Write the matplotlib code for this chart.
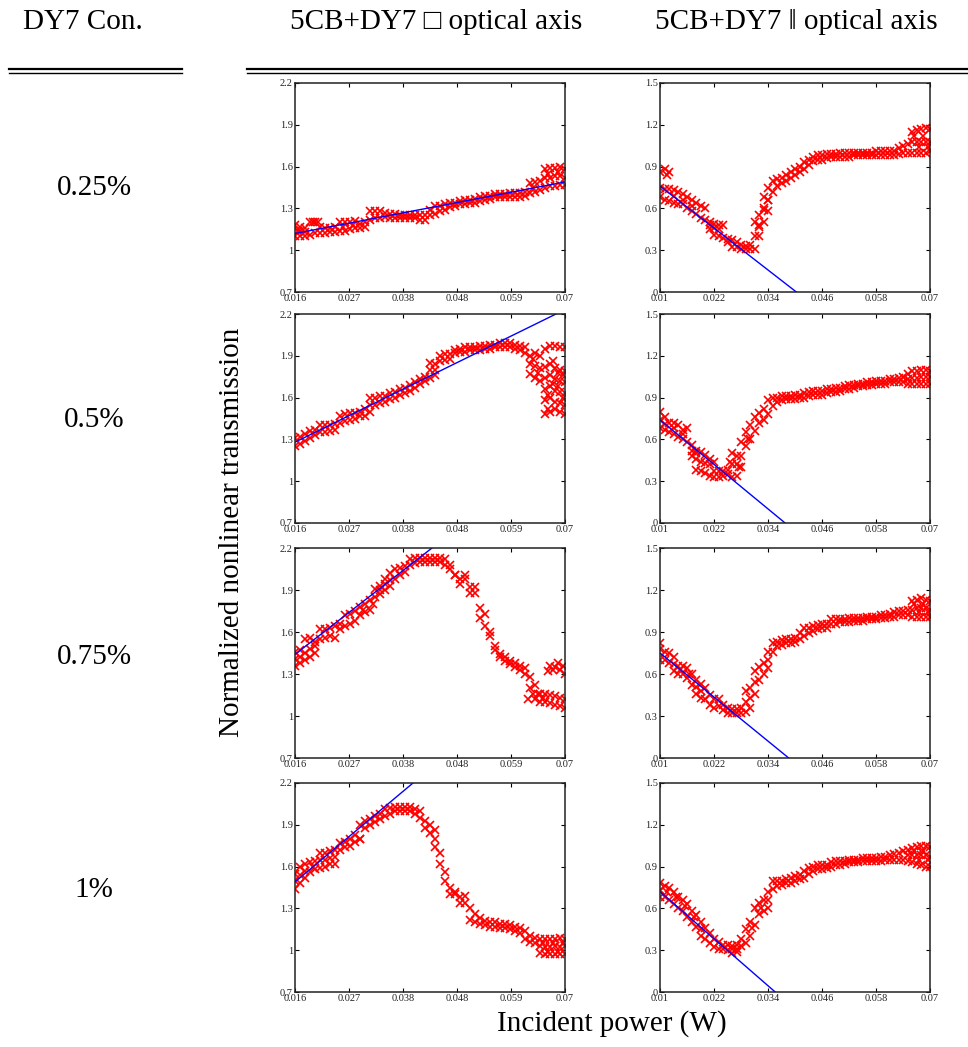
import numpy as np
import matplotlib
matplotlib.use("Agg")
import matplotlib.pyplot as plt
from matplotlib.lines import Line2D

plt.rcParams['font.family'] = ['Liberation Serif', 'DejaVu Serif']

# sample positions (mW) for the two x ranges
power_perp_mw = [16, 17, 18, 19, 20, 21, 22, 23, 24, 25, 26, 27, 28, 29, 30, 31, 32, 33, 34, 35,
                 36, 37, 38, 39, 40, 41, 42, 43, 44, 45, 46, 47, 48, 49, 50, 51, 52, 53, 54, 55,
                 56, 57, 58, 59, 60, 61, 62, 63, 64, 65, 66, 67, 68, 69, 70]
power_par_mw = [10, 11, 12, 13, 14, 15, 16, 17, 18, 19, 20, 21, 22, 23, 24, 25, 26, 27, 28, 29,
                30, 31, 32, 33, 34, 35, 36, 37, 38, 39, 40, 41, 42, 43, 44, 45, 46, 47, 48, 49,
                50, 51, 52, 53, 54, 55, 56, 57, 58, 59, 60, 61, 62, 63, 64, 65, 66, 67, 68, 69, 70]

# ---- 0.25 %
perp025_lo = [1.10, 1.10, 1.10, 1.11, 1.12, 1.12, 1.12, 1.13, 1.13, 1.14,
              1.14, 1.15, 1.16, 1.16, 1.17, 1.22, 1.23, 1.23, 1.24, 1.23,
              1.23, 1.23, 1.23, 1.23, 1.23, 1.22, 1.22, 1.25, 1.26, 1.28,
              1.29, 1.31, 1.32, 1.33, 1.33, 1.34, 1.34, 1.35, 1.36, 1.37,
              1.38, 1.38, 1.38, 1.38, 1.38, 1.38, 1.39, 1.41, 1.42, 1.43,
              1.45, 1.46, 1.46, 1.47, 1.47]
perp025_hi = [1.18, 1.17, 1.16, 1.20, 1.20, 1.17, 1.16, 1.16, 1.17, 1.20,
              1.20, 1.20, 1.21, 1.19, 1.20, 1.28, 1.28, 1.28, 1.27, 1.26,
              1.26, 1.25, 1.25, 1.25, 1.25, 1.25, 1.25, 1.29, 1.32, 1.32,
              1.33, 1.34, 1.34, 1.35, 1.36, 1.36, 1.37, 1.38, 1.39, 1.39,
              1.40, 1.40, 1.40, 1.41, 1.41, 1.41, 1.42, 1.48, 1.49, 1.50,
              1.58, 1.59, 1.59, 1.60, 1.58]
perp025_ex_x = [16.5, 19.5, 20.5, 63.5, 66, 67, 68, 69, 70, 66.5, 68.5, 17, 18, 25.5, 27.5]
perp025_ex_y = [1.14, 1.20, 1.20, 1.45, 1.52, 1.52, 1.53, 1.53, 1.52, 1.55, 1.56, 1.14, 1.13, 1.17, 1.18]
perp025_fit_x = [0.016, 0.070]
perp025_fit_y = [1.12, 1.49]

par025_lo = [0.68, 0.66, 0.65, 0.64, 0.63, 0.63, 0.60, 0.58, 0.56, 0.53,
             0.52, 0.45, 0.41, 0.40, 0.39, 0.36, 0.32, 0.32, 0.31, 0.31,
             0.31, 0.31, 0.40, 0.50, 0.58, 0.72, 0.76, 0.78, 0.80, 0.82,
             0.84, 0.86, 0.88, 0.91, 0.94, 0.95, 0.95, 0.96, 0.97, 0.97,
             0.97, 0.97, 0.97, 0.98, 0.98, 0.98, 0.98, 0.98, 0.98, 0.98,
             0.98, 0.98, 0.98, 0.99, 1.00, 1.00, 1.00, 1.00, 1.00, 1.00,
             1.01]
par025_hi = [0.75, 0.74, 0.74, 0.73, 0.72, 0.70, 0.68, 0.66, 0.64, 0.62,
             0.60, 0.50, 0.49, 0.48, 0.48, 0.38, 0.37, 0.36, 0.34, 0.33,
             0.34, 0.40, 0.55, 0.68, 0.75, 0.80, 0.81, 0.82, 0.84, 0.86,
             0.88, 0.90, 0.93, 0.95, 0.97, 0.98, 0.98, 0.99, 0.99, 0.99,
             1.00, 1.00, 1.00, 1.00, 1.00, 1.00, 1.00, 1.00, 1.01, 1.01,
             1.01, 1.01, 1.01, 1.03, 1.05, 1.06, 1.15, 1.16, 1.17, 1.18,
             1.17]
par025_ex_x = [10, 11, 12, 11.5, 21, 22, 23, 31, 32, 33, 34, 32, 33, 34,
               66, 67, 68, 69, 70, 66.5, 68.5, 67.5, 69.5, 13, 15, 17]
par025_ex_y = [0.86, 0.88, 0.86, 0.84, 0.48, 0.46, 0.45, 0.50, 0.48, 0.60, 0.66, 0.47, 0.59, 0.66,
               1.08, 1.08, 1.08, 1.08, 1.08, 1.12, 1.12, 1.04, 1.04, 0.69, 0.66, 0.62]
par025_fit_x = [0.010, 0.0403]
par025_fit_y = [0.76, 0.0]

# ---- 0.5 %
perp05_lo = [1.25, 1.27, 1.29, 1.31, 1.33, 1.35, 1.35, 1.36, 1.37, 1.42,
             1.43, 1.44, 1.45, 1.47, 1.47, 1.50, 1.55, 1.56, 1.57, 1.59,
             1.60, 1.62, 1.63, 1.65, 1.67, 1.70, 1.72, 1.74, 1.76, 1.86,
             1.87, 1.88, 1.92, 1.93, 1.93, 1.94, 1.94, 1.94, 1.95, 1.95,
             1.96, 1.96, 1.96, 1.96, 1.95, 1.94, 1.92, 1.77, 1.74, 1.72,
             1.48, 1.50, 1.52, 1.50, 1.48]
perp05_hi = [1.31, 1.32, 1.34, 1.36, 1.37, 1.40, 1.40, 1.40, 1.41, 1.47,
             1.48, 1.49, 1.49, 1.50, 1.52, 1.60, 1.60, 1.61, 1.61, 1.63,
             1.64, 1.66, 1.67, 1.69, 1.71, 1.73, 1.75, 1.85, 1.84, 1.90,
             1.91, 1.91, 1.94, 1.95, 1.96, 1.96, 1.96, 1.97, 1.97, 1.98,
             1.98, 1.99, 1.99, 1.99, 1.98, 1.97, 1.96, 1.90, 1.92, 1.90,
             1.95, 1.97, 1.97, 1.96, 1.96]
perp05_ex_x = [31, 43, 44, 63, 64, 65, 63.5, 64.5,
               66, 66, 66, 66, 67, 67, 67, 67, 68, 68, 68, 68,
               69, 69, 69, 69, 70, 70, 70, 70,
               66.5, 67.5, 68.5, 69.5, 66.5, 67.5, 68.5, 69.5]
perp05_ex_y = [1.55, 1.80, 1.80, 1.84, 1.83, 1.81, 1.88, 1.78,
               1.58, 1.66, 1.74, 1.82, 1.60, 1.68, 1.76, 1.84, 1.57, 1.65, 1.73, 1.81,
               1.56, 1.64, 1.72, 1.80, 1.55, 1.63, 1.71, 1.79,
               1.62, 1.70, 1.78, 1.60, 1.52, 1.86, 1.68, 1.76]
perp05_fit_x = [0.016, 0.0682]
perp05_fit_y = [1.28, 2.20]

par05_lo = [0.68, 0.67, 0.65, 0.64, 0.62, 0.60, 0.58, 0.48, 0.46, 0.44,
            0.43, 0.34, 0.33, 0.33, 0.34, 0.35, 0.33, 0.34, 0.40, 0.55,
            0.60, 0.66, 0.72, 0.74, 0.78, 0.84, 0.87, 0.88, 0.89, 0.89,
            0.89, 0.90, 0.90, 0.91, 0.92, 0.92, 0.92, 0.93, 0.94, 0.94,
            0.95, 0.96, 0.96, 0.97, 0.98, 0.98, 0.99, 0.99, 1.00, 1.00,
            1.00, 1.01, 1.01, 1.01, 1.01, 1.00, 1.00, 1.00, 1.00, 1.00,
            1.00]
par05_hi = [0.80, 0.76, 0.72, 0.72, 0.70, 0.67, 0.68, 0.56, 0.52, 0.51,
            0.49, 0.42, 0.37, 0.37, 0.37, 0.38, 0.50, 0.48, 0.58, 0.65,
            0.70, 0.76, 0.79, 0.82, 0.88, 0.90, 0.90, 0.91, 0.91, 0.91,
            0.92, 0.92, 0.93, 0.94, 0.95, 0.95, 0.95, 0.96, 0.96, 0.97,
            0.97, 0.98, 0.99, 0.99, 1.00, 1.00, 1.01, 1.01, 1.02, 1.02,
            1.02, 1.03, 1.03, 1.04, 1.05, 1.07, 1.09, 1.09, 1.10, 1.10,
            1.09]
par05_ex_x = [18, 19, 20, 21, 22, 26, 27, 28, 10, 17, 18,
              65, 66, 67, 68, 69, 70, 11, 13, 15, 25.5, 27.5, 29.5]
par05_ex_y = [0.38, 0.37, 0.36, 0.46, 0.44, 0.42, 0.42, 0.48, 0.74, 0.52, 0.50,
              1.03, 1.04, 1.04, 1.05, 1.05, 1.05, 0.71, 0.68, 0.64, 0.44, 0.40, 0.60]
par05_fit_x = [0.010, 0.0378]
par05_fit_y = [0.74, 0.0]

# ---- 0.75 %
perp075_lo = [1.36, 1.38, 1.40, 1.42, 1.45, 1.55, 1.56, 1.57, 1.56, 1.62,
              1.64, 1.66, 1.68, 1.72, 1.74, 1.76, 1.85, 1.87, 1.90, 1.93,
              1.98, 2.01, 2.03, 2.08, 2.09, 2.10, 2.10, 2.10, 2.10, 2.10,
              2.08, 2.05, 2.01, 1.94, 1.98, 1.88, 1.88, 1.70, 1.64, 1.57,
              1.47, 1.42, 1.39, 1.37, 1.35, 1.33, 1.30, 1.20, 1.12, 1.10,
              1.10, 1.09, 1.08, 1.07, 1.06]
perp075_hi = [1.46, 1.47, 1.55, 1.56, 1.53, 1.62, 1.62, 1.63, 1.64, 1.66,
              1.72, 1.73, 1.75, 1.78, 1.80, 1.83, 1.91, 1.93, 1.98, 2.02,
              2.05, 2.06, 2.07, 2.12, 2.13, 2.13, 2.13, 2.13, 2.13, 2.13,
              2.12, 2.08, 2.01, 1.98, 2.01, 1.92, 1.92, 1.77, 1.73, 1.60,
              1.50, 1.44, 1.42, 1.39, 1.38, 1.36, 1.34, 1.28, 1.22, 1.16,
              1.16, 1.15, 1.14, 1.13, 1.12]
perp075_ex_x = [66.5, 67, 67.5, 68, 68.5, 69, 69.5, 70, 62.5, 63.5, 17, 19, 33, 34, 35,
                16, 18, 20, 64.5, 65.5, 29.5, 31.5]
perp075_ex_y = [1.32, 1.36, 1.33, 1.35, 1.38, 1.33, 1.36, 1.30, 1.12, 1.16, 1.42, 1.48, 1.90, 1.94, 1.97,
                1.41, 1.45, 1.50, 1.16, 1.13, 1.76, 1.80]
perp075_fit_x = [0.016, 0.0434]
perp075_fit_y = [1.44, 2.20]

par075_lo = [0.70, 0.70, 0.68, 0.62, 0.60, 0.60, 0.57, 0.52, 0.46, 0.43,
             0.42, 0.38, 0.36, 0.37, 0.34, 0.32, 0.32, 0.32, 0.32, 0.33,
             0.36, 0.46, 0.56, 0.60, 0.64, 0.76, 0.80, 0.81, 0.82, 0.82,
             0.83, 0.85, 0.87, 0.89, 0.91, 0.92, 0.93, 0.93, 0.96, 0.96,
             0.97, 0.97, 0.97, 0.98, 0.98, 0.98, 0.99, 0.99, 0.99, 1.00,
             1.00, 1.01, 1.01, 1.02, 1.02, 1.02, 1.01, 1.01, 1.01, 1.01,
             1.01]
par075_hi = [0.78, 0.76, 0.75, 0.72, 0.66, 0.66, 0.64, 0.60, 0.56, 0.53,
             0.50, 0.45, 0.42, 0.42, 0.38, 0.36, 0.35, 0.35, 0.36, 0.48,
             0.50, 0.62, 0.65, 0.68, 0.76, 0.82, 0.83, 0.84, 0.85, 0.85,
             0.86, 0.89, 0.93, 0.93, 0.94, 0.95, 0.96, 0.96, 0.99, 0.99,
             0.99, 0.99, 1.00, 1.00, 1.00, 1.00, 1.01, 1.01, 1.01, 1.02,
             1.02, 1.03, 1.04, 1.05, 1.05, 1.06, 1.12, 1.13, 1.14, 1.13,
             1.12]
par075_ex_x = [10, 29, 30, 31, 34, 66, 67, 68, 69, 70, 13, 18, 19, 66.5, 67.5, 68.5, 69.5, 14.5, 16.5]
par075_ex_y = [0.82, 0.40, 0.43, 0.54, 0.70, 1.06, 1.07, 1.07, 1.07, 1.06, 0.67, 0.51, 0.48,
               1.10, 1.04, 1.10, 1.04, 0.63, 0.60]
par075_fit_x = [0.010, 0.0386]
par075_fit_y = [0.75, 0.0]

# ---- 1 %
perp1_lo = [1.44, 1.48, 1.52, 1.56, 1.58, 1.59, 1.60, 1.62, 1.62, 1.72,
            1.74, 1.75, 1.78, 1.80, 1.88, 1.90, 1.92, 1.94, 1.96, 1.98,
            2.00, 2.00, 2.00, 2.00, 1.98, 1.95, 1.88, 1.84, 1.74, 1.62,
            1.50, 1.40, 1.40, 1.34, 1.34, 1.22, 1.20, 1.19, 1.18, 1.17,
            1.17, 1.16, 1.16, 1.15, 1.14, 1.12, 1.08, 1.06, 1.05, 0.98,
            0.97, 0.97, 0.97, 0.97, 0.97]
perp1_hi = [1.55, 1.60, 1.62, 1.63, 1.64, 1.70, 1.70, 1.71, 1.72, 1.77,
            1.78, 1.80, 1.83, 1.90, 1.93, 1.94, 1.96, 1.98, 2.01, 2.02,
            2.03, 2.03, 2.03, 2.03, 2.01, 2.00, 1.93, 1.90, 1.86, 1.70,
            1.56, 1.45, 1.42, 1.38, 1.39, 1.30, 1.26, 1.23, 1.21, 1.20,
            1.20, 1.19, 1.19, 1.18, 1.17, 1.16, 1.14, 1.10, 1.09, 1.08,
            1.08, 1.08, 1.08, 1.09, 1.08]
perp1_ex_x = [16, 17, 29, 44, 65, 66, 67, 68, 69, 70, 21, 22, 23, 24,
              65.5, 66.5, 67.5, 68.5, 69.5, 18, 19.5]
perp1_ex_y = [1.50, 1.54, 1.80, 1.80, 1.03, 1.02, 1.02, 1.03, 1.02, 1.03, 1.65, 1.65, 1.66, 1.67,
              1.05, 0.99, 1.05, 0.99, 1.05, 1.57, 1.60]
perp1_fit_x = [0.016, 0.0396]
perp1_fit_y = [1.49, 2.20]

par1_lo = [0.68, 0.68, 0.66, 0.63, 0.60, 0.58, 0.54, 0.50, 0.47, 0.40,
           0.38, 0.35, 0.32, 0.31, 0.31, 0.30, 0.28, 0.29, 0.33, 0.35,
           0.40, 0.48, 0.56, 0.58, 0.60, 0.74, 0.76, 0.77, 0.78, 0.78,
           0.80, 0.81, 0.82, 0.85, 0.87, 0.88, 0.88, 0.89, 0.90, 0.91,
           0.91, 0.92, 0.93, 0.93, 0.93, 0.94, 0.94, 0.94, 0.94, 0.94,
           0.95, 0.95, 0.95, 0.95, 0.95, 0.94, 0.93, 0.92, 0.91, 0.90,
           0.90]
par1_hi = [0.78, 0.76, 0.75, 0.72, 0.68, 0.66, 0.63, 0.58, 0.55, 0.50,
           0.46, 0.42, 0.38, 0.36, 0.34, 0.34, 0.33, 0.34, 0.38, 0.45,
           0.50, 0.60, 0.64, 0.66, 0.72, 0.80, 0.80, 0.80, 0.81, 0.82,
           0.83, 0.84, 0.87, 0.89, 0.90, 0.91, 0.91, 0.91, 0.93, 0.94,
           0.94, 0.94, 0.95, 0.95, 0.95, 0.96, 0.96, 0.96, 0.96, 0.97,
           0.97, 0.98, 0.99, 1.00, 1.01, 1.02, 1.03, 1.04, 1.05, 1.05,
           1.04]
par1_ex_x = [10, 19, 34, 65, 66, 67, 68, 69, 70, 26, 27, 11.5, 13.5, 15.5, 17.5, 30.5, 32.5,
             66.5, 67.5, 68.5, 69.5]
par1_ex_y = [0.73, 0.45, 0.66, 0.98, 0.98, 0.98, 0.98, 0.98, 0.97, 0.31, 0.31, 0.72, 0.68, 0.62, 0.54,
             0.46, 0.60, 1.01, 0.95, 1.01, 0.95]
par1_fit_x = [0.010, 0.0356]
par1_fit_y = [0.72, 0.0]

row_labels = ['0.25%', '0.5%', '0.75%', '1%']
col_titles = ['DY7 Con.', '5CB+DY7 \u25a1 optical axis', '5CB+DY7 \u2016 optical axis']
perp_xticklabels = ['0.016', '0.027', '0.038', '0.048', '0.059', '0.07']
par_xticklabels = ['0.01', '0.022', '0.034', '0.046', '0.058', '0.07']
perp_yticklabels = ['0.7', '1', '1.3', '1.6', '1.9', '2.2']
par_yticklabels = ['0', '0.3', '0.6', '0.9', '1.2', '1.5']

perp_rows = [
    (perp025_lo, perp025_hi, perp025_ex_x, perp025_ex_y, perp025_fit_x, perp025_fit_y),
    (perp05_lo, perp05_hi, perp05_ex_x, perp05_ex_y, perp05_fit_x, perp05_fit_y),
    (perp075_lo, perp075_hi, perp075_ex_x, perp075_ex_y, perp075_fit_x, perp075_fit_y),
    (perp1_lo, perp1_hi, perp1_ex_x, perp1_ex_y, perp1_fit_x, perp1_fit_y),
]
par_rows = [
    (par025_lo, par025_hi, par025_ex_x, par025_ex_y, par025_fit_x, par025_fit_y),
    (par05_lo, par05_hi, par05_ex_x, par05_ex_y, par05_fit_x, par05_fit_y),
    (par075_lo, par075_hi, par075_ex_x, par075_ex_y, par075_fit_x, par075_fit_y),
    (par1_lo, par1_hi, par1_ex_x, par1_ex_y, par1_fit_x, par1_fit_y),
]

W, H = 968, 1047
fig = plt.figure(figsize=(W / 100, H / 100), dpi=100)

# axes boxes in pixels: (top, bottom)
row_px = [(83, 292), (314, 523), (548, 758), (783, 992)]
col_px = [(295, 565), (660, 930)]


def draw_panel(ax, xs_mw, lo, hi, ex_x, ex_y, fit_x, fit_y, xlim, ylim, xtl, ytl):
    xs = np.array(xs_mw) / 1000.0
    kw = dict(ls='none', marker='x', color='red', ms=6, mew=1.2)
    ax.plot(xs, lo, **kw)
    ax.plot(xs, hi, **kw)
    ax.plot(np.array(ex_x) / 1000.0, ex_y, **kw)
    ax.plot(fit_x, fit_y, color='blue', lw=1.0)
    ax.set_xlim(*xlim)
    ax.set_ylim(*ylim)
    ax.set_xticks(np.linspace(xlim[0], xlim[1], 6))
    ax.set_xticklabels(xtl)
    ax.set_yticks(np.linspace(ylim[0], ylim[1], 6))
    ax.set_yticklabels(ytl)
    ax.tick_params(direction='in', length=3, width=0.8, top=True, right=True,
                   labelsize=7.5, labelcolor='#222222', pad=1.5)
    for sp in ax.spines.values():
        sp.set_linewidth(1.1)
        sp.set_color('#222222')


for r in range(4):
    top, bot = row_px[r]
    for c in range(2):
        left, right = col_px[c]
        ax = fig.add_axes([left / W, 1 - bot / H, (right - left) / W, (bot - top) / H])
        if c == 0:
            lo, hi, ex_x, ex_y, fx, fy = perp_rows[r]
            draw_panel(ax, power_perp_mw, lo, hi, ex_x, ex_y, fx, fy,
                       (0.016, 0.07), (0.7, 2.2), perp_xticklabels, perp_yticklabels)
        else:
            lo, hi, ex_x, ex_y, fx, fy = par_rows[r]
            draw_panel(ax, power_par_mw, lo, hi, ex_x, ex_y, fx, fy,
                       (0.01, 0.07), (0.0, 1.5), par_xticklabels, par_yticklabels)

# header texts
fs = 21
fig.text(83 / W, 1 - 22 / H, col_titles[0], ha='center', va='center', fontsize=fs)
fig.text(436 / W, 1 - 22 / H, col_titles[1], ha='center', va='center', fontsize=fs)
fig.text(796 / W, 1 - 22 / H, col_titles[2], ha='center', va='center', fontsize=fs)

# double rules under the header
for x0, x1 in [(9, 182), (247, 968)]:
    fig.add_artist(Line2D([x0 / W, x1 / W], [1 - 69 / H, 1 - 69 / H], color='black', lw=1.6))
    fig.add_artist(Line2D([x0 / W, x1 / W], [1 - 72.5 / H, 1 - 72.5 / H], color='black', lw=1.0))

# row labels
for lab, y in zip(row_labels, [188, 420, 657, 890]):
    fig.text(94 / W, 1 - y / H, lab, ha='center', va='center', fontsize=fs)

fig.text(232 / W, 1 - 532 / H, 'Normalized nonlinear transmission', rotation=90,
         ha='center', va='center', fontsize=fs)
fig.text(612 / W, 1 - 1024 / H, 'Incident power (W)', ha='center', va='center', fontsize=fs)

fig.savefig('out.png', dpi=100)
